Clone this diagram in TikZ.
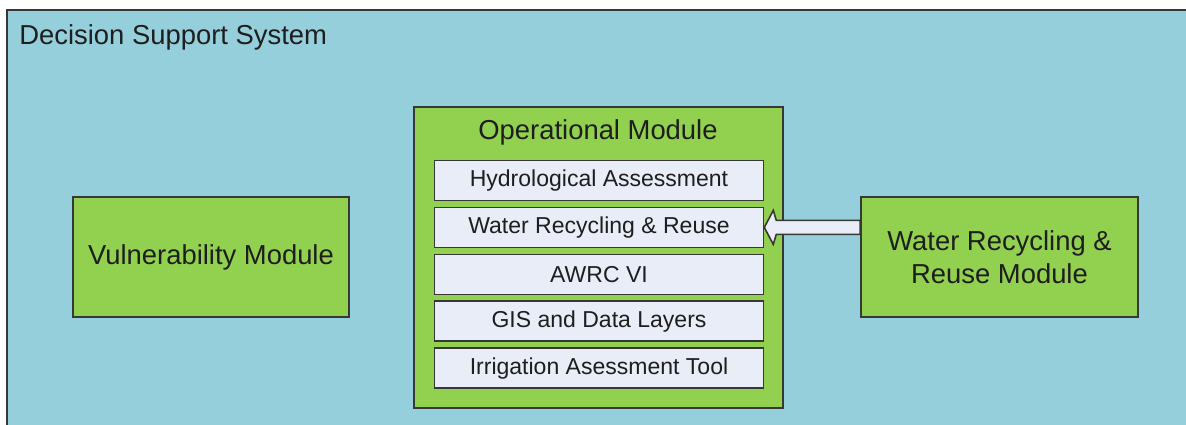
\documentclass[tikz,border=0pt]{standalone}
\usepackage{fontspec}
\setmainfont{Liberation Sans}
\usetikzlibrary{calc}

\definecolor{dssblue}{RGB}{150,207,220}
\definecolor{modgreen}{RGB}{146,208,80}
\definecolor{toolfill}{RGB}{232,237,248}
\definecolor{edgegray}{RGB}{55,55,55}
\definecolor{textgray}{RGB}{30,30,30}

\begin{document}
\begin{tikzpicture}[x=0.02cm, y=-0.02cm,
  bigtext/.style={font=\fontsize{15.6}{18.8}\selectfont, text=textgray, inner sep=0},
  module/.style={bigtext, draw=edgegray, line width=0.9pt, fill=modgreen, align=center},
  tool/.style={draw=edgegray, line width=0.9pt, fill=toolfill, text=textgray,
    font=\fontsize{13.1}{15}\selectfont, minimum width=329*\u, minimum height=40*\u, inner sep=0},
  fatarrow/.style={draw=edgegray, line width=0.9pt, fill=toolfill, line join=miter}]

	\def\u{0.02cm};

 \useasboundingbox (0,0) rectangle (1186,425);
 \fill[white] (0,0) rectangle (1186,425);
 \clip (0,0) rectangle (1186,425);

	%draw system frame
 \draw[draw=edgegray, line width=1pt, fill=dssblue] (7,10) rectangle (1200,440);
 \node[bigtext, anchor=base west] (dsstitle) at (19,45) {Decision Support System};

 \node[module, minimum width=276*\u, minimum height=120*\u] (vul) at (211,257) {Vulnerability Module};

	%operational module
 \node[module, minimum width=369*\u, minimum height=301*\u] (opm) at (598.5,257.5) {};
 \node[bigtext, anchor=base] (opmtitle) at (598,140) {Operational Module};

    \foreach \i/\txt/\name in { 0/Hydrological Assessment/hyd,1/Water Recycling \& Reuse/rec,2/AWRC VI/awrc,3/GIS and Data Layers/gis,4/Irrigation Asessment Tool/irr }{
         \node[tool] (\name) at (599, 180.5 + \i*46.9) {\txt};
    }

 \node[module, minimum width=277*\u, minimum height=120*\u] (wrr) at (999.5,257) {Water Recycling \&\\Reuse Module};

	%arrow
 \draw[fatarrow] (rec.east) -- ++(9,-17) -- ++(3,10) -- ($(wrr.west |- rec.east)+(0,-7)$)
   -- ($(wrr.west |- rec.east)+(0,7)$) -- ($(rec.east)+(12,7)$) -- ++(-3,10) -- cycle;

\end{tikzpicture}
\end{document}
